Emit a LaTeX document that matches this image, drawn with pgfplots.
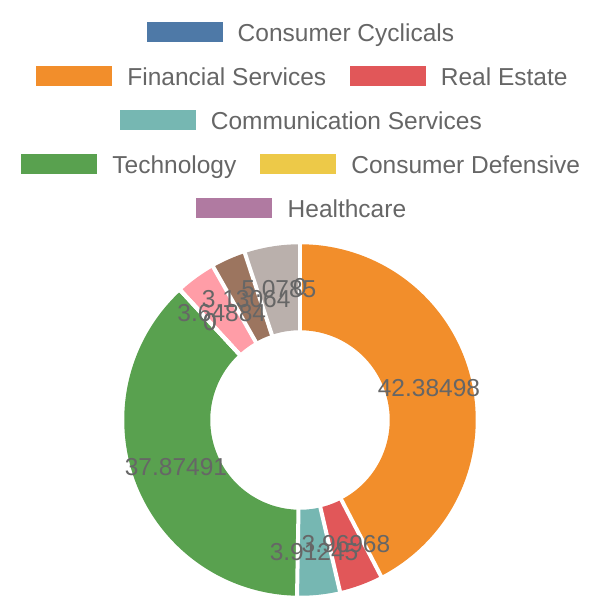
\documentclass[border=0pt]{standalone}
\usepackage{pgfplots}
\pgfplotsset{compat=1.18}
\usepackage{fontspec}
\setmainfont{Liberation Sans}
\definecolor{cblue}{HTML}{4E79A7}
\definecolor{corange}{HTML}{F28E2B}
\definecolor{cred}{HTML}{E15759}
\definecolor{cteal}{HTML}{76B7B2}
\definecolor{cgreen}{HTML}{59A14F}
\definecolor{cyellow}{HTML}{EDC948}
\definecolor{cpurple}{HTML}{B07AA1}
\definecolor{cpink}{HTML}{FF9DA7}
\definecolor{cbrown}{HTML}{9C755F}
\definecolor{cgray}{HTML}{BAB0AC}
\definecolor{txt}{HTML}{666666}
% value / colour of each slice, clockwise from 12 o'clock
\def\slices{0/cblue, 42.38498/corange, 3.96968/cred, 3.91245/cteal, 37.87491/cgreen, 0/cyellow, 0/cpurple, 3.64884/cpink, 3.13064/cbrown, 5.0785/cgray}
\begin{document}
\begin{tikzpicture}
\path[use as bounding box] (0,0) rectangle (300bp,300bp);
\begin{axis}[at={(0,0)}, anchor=south west, x=0.5bp, y=0.5bp,
  xmin=0, xmax=600, ymin=0, ymax=600, scale only axis, hide axis, clip=false]
% slices
\gdef\cum{0}
\foreach \v/\c in \slices {
  \pgfmathsetmacro\a{90-3.6*\cum}
  \pgfmathsetmacro\b{90-3.6*(\cum+\v)}
  \pgfmathsetmacro\newcum{\cum+\v}
  \xdef\cum{\newcum}
  \ifdim\v pt>0pt
    \edef\tmp{\noexpand\addplot[draw=\c, line width=43bp, line join=round, line cap=butt, domain=\b:\a, samples=90] ({300+132.75*cos(x)},{180+132.75*sin(x)});}
    \tmp
  \fi
}
% white borders between slices
\gdef\cum{0}
\foreach \v/\c in \slices {
  \pgfmathsetmacro\a{90-3.6*\cum}
  \pgfmathsetmacro\xa{300+84*cos(\a)}
  \pgfmathsetmacro\ya{180+84*sin(\a)}
  \pgfmathsetmacro\xb{300+182*cos(\a)}
  \pgfmathsetmacro\yb{180+182*sin(\a)}
  \pgfmathsetmacro\newcum{\cum+\v}
  \xdef\cum{\newcum}
  \edef\tmp{\noexpand\addplot[draw=white, line width=2bp, line cap=butt] coordinates {(\xa,\ya) (\xb,\yb)};}
  \tmp
}
% value labels
\gdef\cum{0}
\foreach \v/\c in \slices {
  \pgfmathsetmacro\m{90-3.6*(\cum+\v/2)}
  \pgfmathsetmacro\xm{300+132.75*cos(\m)}
  \pgfmathsetmacro\ym{180+132.75*sin(\m)}
  \pgfmathsetmacro\newcum{\cum+\v}
  \xdef\cum{\newcum}
  \edef\tmp{\noexpand\node[text=txt, font=\noexpand\fontsize{12.25bp}{14bp}\noexpand\selectfont, inner sep=0pt, anchor=center] at (axis cs:\xm,\ym) {\v};}
  \tmp
}
% legend
\tikzset{legtxt/.style={text=txt, font=\fontsize{12.25bp}{14bp}\selectfont, inner sep=0pt, anchor=base west}}
\fill[cblue] (axis cs:147,578) rectangle (axis cs:223,558);
\node[legtxt] at (axis cs:237.3,559) {Consumer Cyclicals};
\fill[corange] (axis cs:36.5,534) rectangle (axis cs:112.5,514);
\node[legtxt] at (axis cs:127,515) {Financial Services};
\fill[cred] (axis cs:350,534) rectangle (axis cs:426,514);
\node[legtxt] at (axis cs:440.5,515) {Real Estate};
\fill[cteal] (axis cs:120,490) rectangle (axis cs:196,470);
\node[legtxt] at (axis cs:210.5,471) {Communication Services};
\fill[cgreen] (axis cs:21.5,446) rectangle (axis cs:97.5,426);
\node[legtxt] at (axis cs:112,427) {Technology};
\fill[cyellow] (axis cs:260.5,446) rectangle (axis cs:336.5,426);
\node[legtxt] at (axis cs:351,427) {Consumer Defensive};
\fill[cpurple] (axis cs:196,402) rectangle (axis cs:272,382);
\node[legtxt] at (axis cs:287.3,383) {Healthcare};
\end{axis}
\end{tikzpicture}
\end{document}
